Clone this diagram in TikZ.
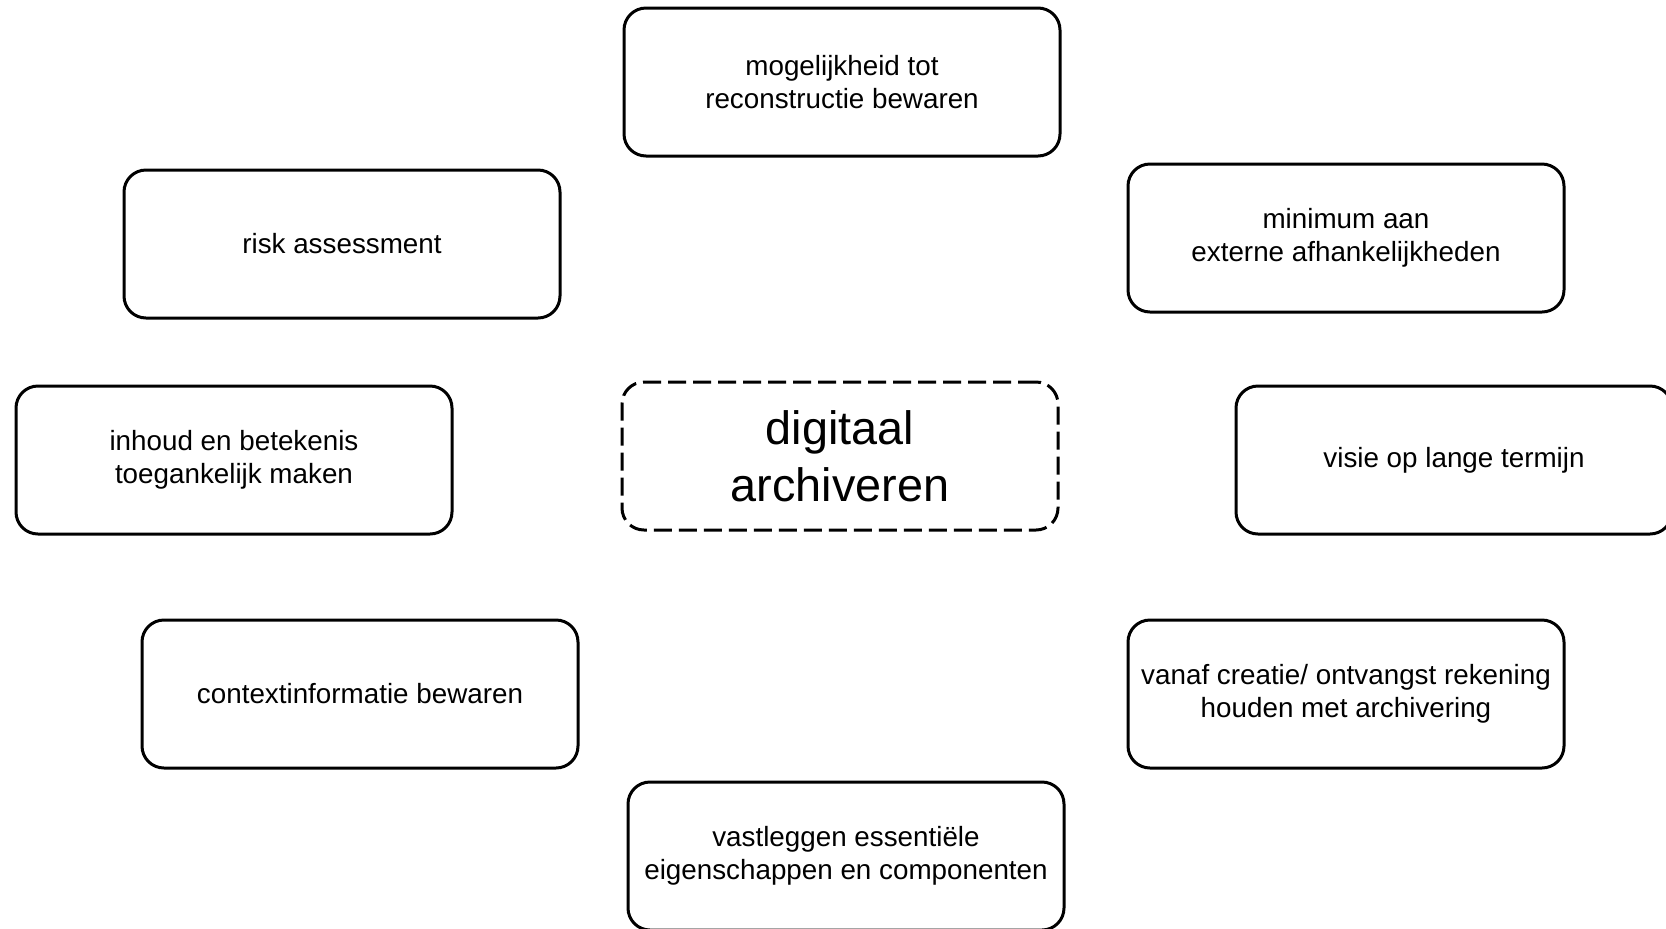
\documentclass[tikz,border=0pt]{standalone}
\usepackage{fontspec}
\setmainfont{Liberation Sans}
\usepackage{tikz}

\begin{document}
\begin{tikzpicture}[x=0.5pt,y=-0.5pt,
		box/.style={draw,line width=1.5pt,rounded corners=11pt,minimum width=218pt,minimum height=74pt,align=center,font=\fontsize{13.9}{16.5}\selectfont},
		hub/.style={box,dashed,dash pattern=on 9pt off 3.5pt,font=\fontsize{23.4}{28.7}\selectfont}]
				\useasboundingbox (0,0) rectangle (1666,928);
				\clip (0,0) rectangle (1666,928);
				\node[hub] (D) at (840,456) {digitaal\\archiveren};
				\node[box] (R) at (842,82) {mogelijkheid tot\\reconstructie bewaren};
				\node[box] (A) at (342,244) {risk assessment};
				\node[box] (M) at (1346,238) {minimum aan\\externe afhankelijkheden};
				\node[box] (I) at (234,460) {inhoud en betekenis\\toegankelijk maken};
				\node[box] (V) at (1454,460) {visie op lange termijn};
				\node[box] (C) at (360,694) {contextinformatie bewaren};
				\node[box] (O) at (1346,694) {vanaf creatie/ ontvangst rekening\\houden met archivering};
				\node[box] (E) at (846,856) {vastleggen essentiële\\eigenschappen en componenten};
			\end{tikzpicture}
\end{document}
